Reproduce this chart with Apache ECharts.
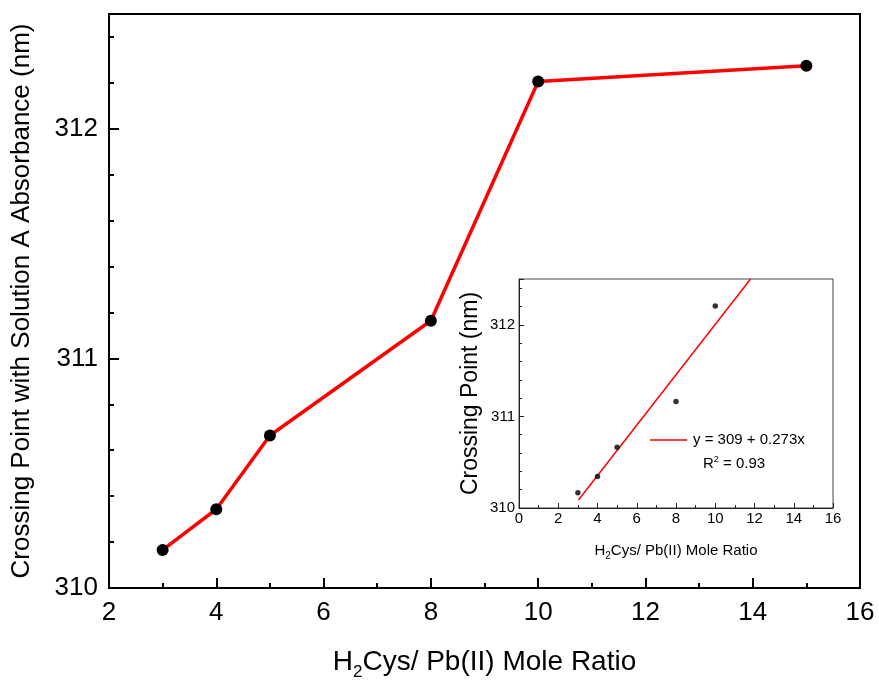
<!DOCTYPE html>
<html><head><meta charset="utf-8">
<script src="https://cdn.jsdelivr.net/npm/echarts@6/dist/echarts.min.js"></script>
<style>html,body{margin:0;padding:0;background:#fff}#c{width:879px;height:686px}</style>
</head><body><div id="c"></div>
<script>
// Main chart data
const ratioX = [3, 4, 5, 8, 10, 15];
const crossingY = [310.166, 310.343, 310.664, 311.164, 312.206, 312.275];
// Inset data (linear fit)
const insetX = [3, 4, 5, 8, 10];
const insetY = [310.166, 310.343, 310.664, 311.164, 312.206];
const fitX = [3.03, 11.8];
const fitY = [310.087, 312.5];
const fitEquation = 'y = 309 + 0.273x';
const fitR2 = '0.93';

const FF = '"Liberation Sans", Arial, sans-serif';
const chart = echarts.init(document.getElementById('c'));

function labelAxis(o, lineColor, lineWidth) {
  return Object.assign({
    type: 'value',
    splitLine: { show: false },
    axisLine: { show: true, onZero: false, lineStyle: { color: lineColor, width: lineWidth } },
    axisTick: { show: false }
  }, o);
}
function tickAxis(o, len, color, width, minorSplit, minorLen) {
  const ax = Object.assign({
    type: 'value',
    splitLine: { show: false },
    axisLine: { show: false },
    axisLabel: { show: false },
    axisTick: { show: true, inside: true, length: len, lineStyle: { color: color, width: width } }
  }, o);
  if (minorSplit) {
    ax.minorTick = { show: true, splitNumber: minorSplit, length: minorLen, lineStyle: { color: color, width: width } };
  }
  return ax;
}

const xName = (big, small) => ({
  fontFamily: FF, color: '#000',
  rich: {
    a: { fontSize: big, fontFamily: FF, color: '#000', verticalAlign: 'middle', lineHeight: Math.round(big * 1.35) },
    s: { fontSize: small, fontFamily: FF, color: '#000', verticalAlign: 'bottom', lineHeight: Math.round(big * 1.35) }
  }
});

const option = {
  animation: false,
  backgroundColor: '#fff',
  grid: [
    { left: 109, top: 14, width: 751, height: 575, show: true, borderColor: '#000', borderWidth: 2, backgroundColor: 'transparent' },
    { left: 519, top: 279, width: 314, height: 229, show: true, borderColor: '#444', borderWidth: 1, backgroundColor: '#fff' }
  ],
  xAxis: [
    labelAxis({
      gridIndex: 0, position: 'bottom', min: 2, max: 16, interval: 2,
      axisLabel: { color: '#000', fontFamily: FF, fontSize: 26, margin: 12 },
      name: '{a|H}{s|2}{a|Cys/ Pb(II) Mole Ratio}', nameLocation: 'middle', nameGap: 55,
      nameTextStyle: xName(28, 17)
    }, '#000', 2),
    tickAxis({ gridIndex: 0, position: 'bottom', min: 2, max: 16, interval: 2 }, 10, '#000', 2, 2, 5),
    labelAxis({
      gridIndex: 1, position: 'bottom', min: 0, max: 16, interval: 2,
      axisLabel: { color: '#000', fontFamily: FF, fontSize: 15, margin: 3 },
      name: '{a|H}{s|2}{a|Cys/ Pb(II) Mole Ratio}', nameLocation: 'middle', nameGap: 33,
      nameTextStyle: xName(15, 10)
    }, '#222', 1),
    tickAxis({ gridIndex: 1, position: 'bottom', min: 0, max: 16, interval: 2 }, 5, '#222', 1, 2, 3)
  ],
  yAxis: [
    labelAxis({
      gridIndex: 0, position: 'left', min: 310, max: 312.5, interval: 1,
      axisLabel: { color: '#000', fontFamily: FF, fontSize: 26, margin: 11, showMaxLabel: false },
      name: 'Crossing Point with Solution A Absorbance (nm)', nameLocation: 'middle', nameGap: 74,
      nameTextStyle: { fontFamily: FF, fontSize: 26, color: '#000' }
    }, '#000', 2),
    tickAxis({ gridIndex: 0, position: 'left', min: 310, max: 312.5, interval: 1 }, 10, '#000', 2),
    tickAxis({ gridIndex: 0, position: 'left', min: 310, max: 312.5, interval: 0.2 }, 5, '#000', 2),
    labelAxis({
      gridIndex: 1, position: 'left', min: 310, max: 312.5, interval: 1,
      axisLabel: { color: '#000', fontFamily: FF, fontSize: 15, margin: 4, showMaxLabel: false },
      name: 'Crossing Point (nm)', nameLocation: 'middle', nameGap: 37,
      nameTextStyle: { fontFamily: FF, fontSize: 23, color: '#000' }
    }, '#222', 1),
    tickAxis({ gridIndex: 1, position: 'left', min: 310, max: 312.5, interval: 1 }, 5, '#222', 1),
    tickAxis({ gridIndex: 1, position: 'left', min: 310, max: 312.5, interval: 0.2 }, 3, '#222', 1)
  ],
  series: [
    {
      type: 'line', xAxisIndex: 0, yAxisIndex: 0,
      data: ratioX.map((x, i) => [x, crossingY[i]]),
      lineStyle: { color: '#ff0000', width: 3.5 },
      symbol: 'circle', symbolSize: 12, showAllSymbol: true,
      itemStyle: { color: '#000' }, z: 3
    },
    {
      type: 'line', xAxisIndex: 2, yAxisIndex: 3,
      data: fitX.map((x, i) => [x, fitY[i]]),
      symbol: 'none', lineStyle: { color: '#ff0000', width: 1.5 }, z: 3
    },
    {
      type: 'scatter', xAxisIndex: 2, yAxisIndex: 3,
      data: insetX.map((x, i) => [x, insetY[i]]),
      symbol: 'circle', symbolSize: 5.5, itemStyle: { color: '#000' }, z: 4
    }
  ],
  graphic: [
    { type: 'line', shape: { x1: 650, y1: 440, x2: 687, y2: 440 }, style: { stroke: '#ff0000', lineWidth: 1.5 }, z: 10 },
    { type: 'text', x: 693, y: 440, z: 10,
      style: { text: fitEquation, fontFamily: FF, fontSize: 15, fill: '#000', verticalAlign: 'middle' } },
    { type: 'text', x: 703, y: 464, z: 10,
      style: {
        text: '{a|R}{p|2}{a| = ' + fitR2 + '}', verticalAlign: 'middle',
        rich: {
          a: { fontFamily: FF, fontSize: 15, fill: '#000', verticalAlign: 'middle', lineHeight: 18 },
          p: { fontFamily: FF, fontSize: 9, fill: '#000', verticalAlign: 'top', lineHeight: 18 }
        }
      } }
  ]
};
chart.setOption(option);
</script></body></html>
